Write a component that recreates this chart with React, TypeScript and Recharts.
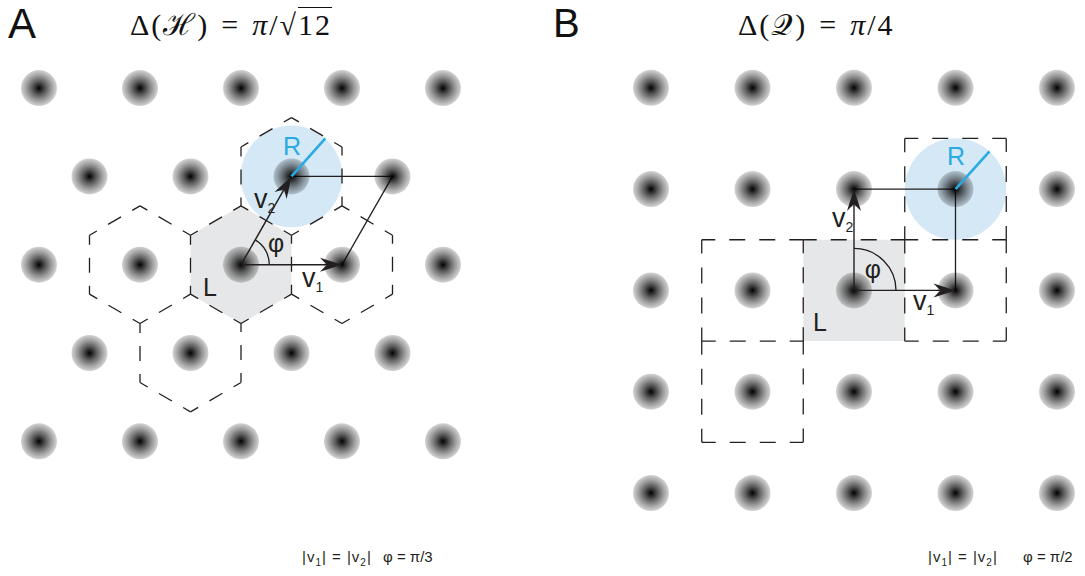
import { ScatterChart, Scatter, XAxis, YAxis } from 'recharts';

const INK = '#231f20';
const BLUE = '#29abe2';
const BLUE_FILL = '#d4e8f6';
const GRAY_FILL = '#e6e7e8';
const SANS = 'Arial, "Liberation Sans", Helvetica, sans-serif';
const SERIF = '"Liberation Serif", "DejaVu Serif", serif';

// A: hexagonal packing, lattice units (rows sqrt(3)/2 apart)
const hexDots = [
  { x: 0, y: 3.464 }, { x: 1, y: 3.464 }, { x: 2, y: 3.464 }, { x: 3, y: 3.464 }, { x: 4, y: 3.464 },
  { x: 0.5, y: 2.598 }, { x: 1.5, y: 2.598 }, { x: 2.5, y: 2.598 }, { x: 3.5, y: 2.598 },
  { x: 0, y: 1.732 }, { x: 1, y: 1.732 }, { x: 2, y: 1.732 }, { x: 3, y: 1.732 }, { x: 4, y: 1.732 },
  { x: 0.5, y: 0.866 }, { x: 1.5, y: 0.866 }, { x: 2.5, y: 0.866 }, { x: 3.5, y: 0.866 },
  { x: 0, y: 0 }, { x: 1, y: 0 }, { x: 2, y: 0 }, { x: 3, y: 0 }, { x: 4, y: 0 },
];
const hexCells = [
  { x: 2, y: 1.732 }, { x: 1, y: 1.732 }, { x: 3, y: 1.732 }, { x: 2.5, y: 2.598 }, { x: 1.5, y: 0.866 },
];
const hexShaded = { x: 2, y: 1.732 };
const hexCorners = [[0, 0.577], [0.5, 0.289], [0.5, -0.289], [0, -0.577], [-0.5, -0.289], [-0.5, 0.289]];
const hexV1 = [{ x: 2, y: 1.732 }, { x: 3, y: 1.732 }];
const hexV2 = [{ x: 2, y: 1.732 }, { x: 2.5, y: 2.598 }];
const hexFrame = [{ x: 3, y: 1.732 }, { x: 3.5, y: 2.598 }, { x: 2.5, y: 2.598 }];
const hexRadius = [{ x: 2.5, y: 2.598 }, { x: 2.835, y: 2.97 }];
const hexAngle = [{ x: 2, y: 1.732 }, { x: 2.28, y: 1.732 }, { x: 2.14, y: 1.975 }];
const hexLabels = [
  { x: 2.505, y: 2.808, t: 'R' },
  { x: 1.624, y: 1.427, t: 'L' },
  { x: 2.129, y: 2.289, t: 'v', sub: '2' },
  { x: 2.604, y: 1.513, t: 'v', sub: '1' },
  { x: 2.347, y: 1.856, t: 'φ' },
];

// B: square packing
const sqDots = [
  { x: 0, y: 4 }, { x: 1, y: 4 }, { x: 2, y: 4 }, { x: 3, y: 4 }, { x: 4, y: 4 },
  { x: 0, y: 3 }, { x: 1, y: 3 }, { x: 2, y: 3 }, { x: 3, y: 3 }, { x: 4, y: 3 },
  { x: 0, y: 2 }, { x: 1, y: 2 }, { x: 2, y: 2 }, { x: 3, y: 2 }, { x: 4, y: 2 },
  { x: 0, y: 1 }, { x: 1, y: 1 }, { x: 2, y: 1 }, { x: 3, y: 1 }, { x: 4, y: 1 },
  { x: 0, y: 0 }, { x: 1, y: 0 }, { x: 2, y: 0 }, { x: 3, y: 0 }, { x: 4, y: 0 },
];
const sqCells = [{ x: 1, y: 2 }, { x: 1, y: 1 }, { x: 3, y: 2 }, { x: 3, y: 3 }];
const sqShaded = { x: 2, y: 2 };
const sqCorners = [[-0.5, 0.5], [0.5, 0.5], [0.5, -0.5], [-0.5, -0.5]];
const sqShadedTop = [{ x: 1.5, y: 2.5 }, { x: 2.5, y: 2.5 }];
const sqV1 = [{ x: 2, y: 2 }, { x: 3, y: 2 }];
const sqV2 = [{ x: 2, y: 2 }, { x: 2, y: 3 }];
const sqFrame = [{ x: 2, y: 3 }, { x: 3, y: 3 }, { x: 3, y: 2 }];
const sqRadius = [{ x: 3, y: 3 }, { x: 3.335, y: 3.372 }];
const sqAngle = [{ x: 2, y: 2 }, { x: 2.414, y: 2 }, { x: 2, y: 2.414 }];
const sqLabels = [
  { x: 3.005, y: 3.238, t: 'R' },
  { x: 1.596, y: 1.599, t: 'L' },
  { x: 1.783, y: 2.626, t: 'v', sub: '2' },
  { x: 2.581, y: 1.807, t: 'v', sub: '1' },
  { x: 2.187, y: 2.122, t: 'φ' },
];

function cellEdges(cells: { x: number; y: number }[], corners: number[][]) {
  const seen = new Set<string>();
  const pts: { x: number; y: number }[] = [];
  cells.forEach(c => {
    corners.forEach((k, i) => {
      const n = corners[(i + 1) % corners.length];
      const a = { x: +(c.x + k[0]).toFixed(3), y: +(c.y + k[1]).toFixed(3) };
      const b = { x: +(c.x + n[0]).toFixed(3), y: +(c.y + n[1]).toFixed(3) };
      const key = [`${a.x},${a.y}`, `${b.x},${b.y}`].sort().join('|');
      if (seen.has(key)) return;
      seen.add(key);
      pts.push(a, b);
    });
  });
  return pts;
}

const cellOutline = (c: { x: number; y: number }, corners: number[][]) =>
  corners.map(k => ({ x: c.x + k[0], y: c.y + k[1] }));

const noDot = () => <g />;

function Segments(p: any) {
  const pts = p.points || [];
  const out = [];
  for (let i = 0; i + 1 < pts.length; i += 2) {
    out.push(
      <line key={i} x1={pts[i].x} y1={pts[i].y} x2={pts[i + 1].x} y2={pts[i + 1].y}
        stroke={INK} strokeWidth={1.3} strokeDasharray={p.dashPattern} strokeDashoffset={p.dashShift} />
    );
  }
  return <g>{out}</g>;
}

function Shade(p: any) {
  const pts = p.points || [];
  return (
    <g>
      <defs>
        <radialGradient id="dotShade">
          <stop offset="0%" stopColor="#000" stopOpacity={1} />
          <stop offset="12%" stopColor="#000" stopOpacity={0.88} />
          <stop offset="40%" stopColor="#000" stopOpacity={0.62} />
          <stop offset="70%" stopColor="#000" stopOpacity={0.38} />
          <stop offset="100%" stopColor="#000" stopOpacity={0.17} />
        </radialGradient>
      </defs>
      <polygon points={pts.map((q: any) => `${q.x},${q.y}`).join(' ')} fill={GRAY_FILL} />
    </g>
  );
}

function Disc(p: any) {
  const [c, r] = p.points || [];
  if (!c || !r) return null;
  return <circle cx={c.x} cy={c.y} r={Math.hypot(r.x - c.x, r.y - c.y)} fill={BLUE_FILL} />;
}

function Spoke(p: any) {
  const [c, r] = p.points || [];
  if (!c || !r) return null;
  return <line x1={c.x} y1={c.y} x2={r.x} y2={r.y} stroke={BLUE} strokeWidth={2.6} />;
}

function Frame(p: any) {
  const pts = p.points || [];
  return <polyline points={pts.map((q: any) => `${q.x},${q.y}`).join(' ')} fill="none" stroke={INK} strokeWidth={1.3} />;
}

function Arrow(p: any) {
  const [a, b] = p.points || [];
  if (!a || !b) return null;
  const len = Math.hypot(b.x - a.x, b.y - a.y);
  const ux = (b.x - a.x) / len, uy = (b.y - a.y) / len;
  const nx = -uy, ny = ux;
  const back = 22, notch = 15, half = 7;
  const head = [
    [b.x, b.y],
    [b.x - back * ux + half * nx, b.y - back * uy + half * ny],
    [b.x - notch * ux, b.y - notch * uy],
    [b.x - back * ux - half * nx, b.y - back * uy - half * ny],
  ];
  return (
    <g>
      <line x1={a.x} y1={a.y} x2={b.x - notch * ux} y2={b.y - notch * uy} stroke={INK} strokeWidth={1.4} />
      <polygon points={head.map(q => q.join(',')).join(' ')} fill={INK} />
    </g>
  );
}

function Arc(p: any) {
  const [v, a, b] = p.points || [];
  if (!v || !a || !b) return null;
  const r = Math.hypot(a.x - v.x, a.y - v.y);
  return <path d={`M${a.x},${a.y} A${r},${r} 0 0 0 ${b.x},${b.y}`} fill="none" stroke={INK} strokeWidth={1.3} />;
}

const dotShape = (p: any) => <circle cx={p.cx} cy={p.cy} r={18} fill="url(#dotShade)" />;

const labelShape = (p: any) => {
  const d = p.payload;
  if (d.t === 'R') {
    return <text x={p.cx} y={p.cy} fill={BLUE} fontSize={25} fontFamily={SANS} textAnchor="middle">R</text>;
  }
  if (d.t === 'φ') {
    return <text x={p.cx} y={p.cy} fill={INK} fontSize={25} fontFamily={SANS} textAnchor="middle">φ</text>;
  }
  if (d.sub) {
    return (
      <text x={p.cx} y={p.cy} fill={INK} fontSize={27} fontFamily={SANS}>
        {d.t}<tspan fontSize={14} dy={5}>{d.sub}</tspan>
      </text>
    );
  }
  return <text x={p.cx} y={p.cy} fill={INK} fontSize={25} fontFamily={SANS}>{d.t}</text>;
};

function Panel({ id, dots, edges, shade, disc, frame, v1, v2, angle, labels, dash, shift }: any) {
  return [
    <Scatter key={id + 'shade'} xAxisId={id} yAxisId={id} data={shade} shape={noDot} line={<Shade />} isAnimationActive={false} />,
    <Scatter key={id + 'disc'} xAxisId={id} yAxisId={id} data={disc} shape={noDot} line={<Disc />} isAnimationActive={false} />,
    <Scatter key={id + 'edges'} xAxisId={id} yAxisId={id} data={edges} shape={noDot} line={<Segments dashPattern={dash} dashShift={shift} />} isAnimationActive={false} />,
    <Scatter key={id + 'frame'} xAxisId={id} yAxisId={id} data={frame} shape={noDot} line={<Frame />} isAnimationActive={false} />,
    <Scatter key={id + 'dots'} xAxisId={id} yAxisId={id} data={dots} shape={dotShape} isAnimationActive={false} />,
    <Scatter key={id + 'spoke'} xAxisId={id} yAxisId={id} data={disc} shape={noDot} line={<Spoke />} isAnimationActive={false} />,
    <Scatter key={id + 'v1'} xAxisId={id} yAxisId={id} data={v1} shape={noDot} line={<Arrow />} isAnimationActive={false} />,
    <Scatter key={id + 'v2'} xAxisId={id} yAxisId={id} data={v2} shape={noDot} line={<Arrow />} isAnimationActive={false} />,
    <Scatter key={id + 'arc'} xAxisId={id} yAxisId={id} data={angle} shape={noDot} line={<Arc />} isAnimationActive={false} />,
    <Scatter key={id + 'labels'} xAxisId={id} yAxisId={id} data={labels} shape={labelShape} isAnimationActive={false} />,
  ];
}

const hexEdges = cellEdges(hexCells, hexCorners);
const sqEdges = [...cellEdges(sqCells, sqCorners), ...sqShadedTop];

export default function App() {
  const abs = { position: 'absolute' as const, whiteSpace: 'nowrap' as const, lineHeight: 1 };
  const title = { ...abs, top: 10, fontFamily: SERIF, fontSize: 30, letterSpacing: 2, color: '#111' };
  return (
    <div style={{ position: 'absolute', left: 0, top: 0, width: 1085, height: 576, background: '#fff', overflow: 'hidden' }}>
      <ScatterChart width={1085} height={576} margin={{ top: 0, right: 0, bottom: 0, left: 0 }}>
        <XAxis xAxisId="a" type="number" dataKey="x" domain={[-0.3861, 10.3564]} allowDataOverflow hide />
        <YAxis yAxisId="a" type="number" dataKey="y" domain={[-1.3211, 4.3282]} allowDataOverflow hide />
        <XAxis xAxisId="b" type="number" dataKey="x" domain={[-6.4138, 4.2759]} allowDataOverflow hide />
        <YAxis yAxisId="b" type="number" dataKey="y" domain={[-0.8193, 4.8668]} allowDataOverflow hide />
        {Panel({
          id: 'a', dots: hexDots, edges: hexEdges, shade: cellOutline(hexShaded, hexCorners), disc: hexRadius,
          frame: hexFrame, v1: hexV1, v2: hexV2, angle: hexAngle, labels: hexLabels, dash: '15 13', shift: 6.5,
        })}
        {Panel({
          id: 'b', dots: sqDots, edges: sqEdges, shade: cellOutline(sqShaded, sqCorners), disc: sqRadius,
          frame: sqFrame, v1: sqV1, v2: sqV2, angle: sqAngle, labels: sqLabels, dash: '16 14', shift: 2.5,
        })}
      </ScatterChart>

      <div style={{ ...abs, left: 8, top: 3, fontFamily: SANS, fontSize: 42, color: '#111' }}>A</div>
      <div style={{ ...abs, left: 553, top: 3, fontFamily: SANS, fontSize: 40, color: '#111' }}>B</div>

      <div style={{ ...title, left: 130 }}>
        Δ(ℋ)<span style={{ margin: '0 12px' }}>=</span><i>π</i>/√<span style={{ borderTop: '1.4px solid #111' }}>12</span>
      </div>
      <div style={{ ...title, left: 738 }}>
        Δ(𝒬)<span style={{ margin: '0 12px' }}>=</span><i>π</i>/4
      </div>

      <div style={{ ...abs, left: 302, top: 549, fontFamily: SANS, fontSize: 15, letterSpacing: 1, color: INK }}>
        |v<sub style={{ fontSize: 10 }}>1</sub>| = |v<sub style={{ fontSize: 10 }}>2</sub>|
      </div>
      <div style={{ ...abs, left: 383, top: 549, fontFamily: SANS, fontSize: 15, color: INK }}>φ = π/3</div>
      <div style={{ ...abs, left: 928, top: 549, fontFamily: SANS, fontSize: 15, letterSpacing: 1, color: INK }}>
        |v<sub style={{ fontSize: 10 }}>1</sub>| = |v<sub style={{ fontSize: 10 }}>2</sub>|
      </div>
      <div style={{ ...abs, left: 1023, top: 549, fontFamily: SANS, fontSize: 15, color: INK }}>φ = π/2</div>
    </div>
  );
}
